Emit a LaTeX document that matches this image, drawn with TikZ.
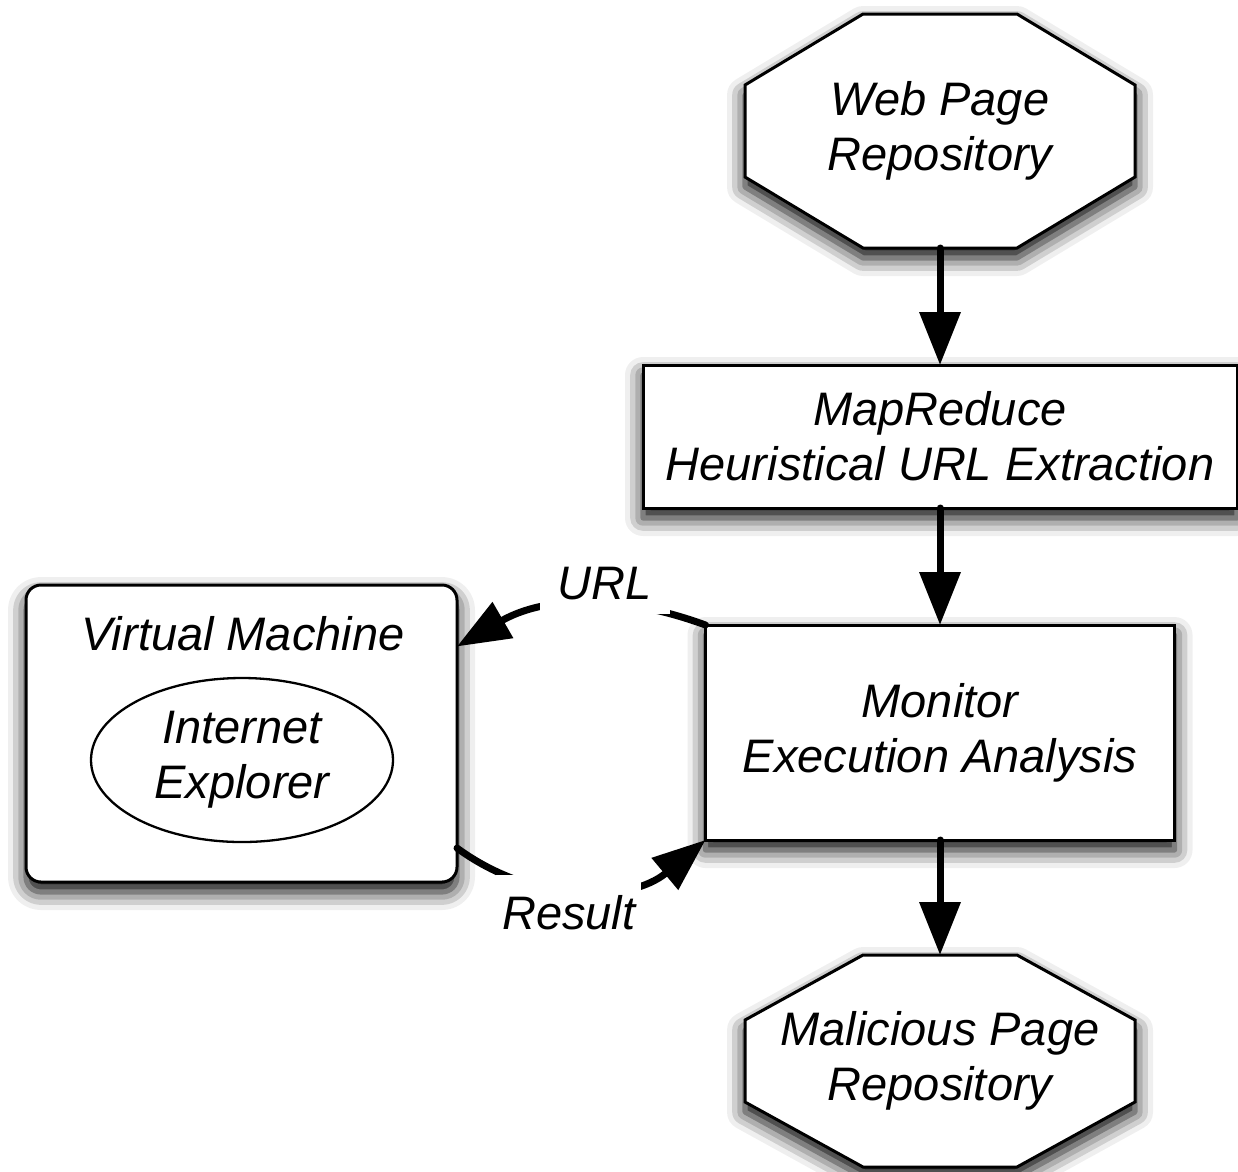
\documentclass[tikz,border=0pt]{standalone}
\usepackage{fontspec}
\setmainfont{Liberation Sans}
\usetikzlibrary{positioning, arrows.meta, shapes.geometric, calc, shadows.blur}

% octagon outline: centre, half height, chamfer height
\newcommand{\octframe}[3]{%
  \begin{scope}
  \draw[repoframe, shift={(#1)}] (-77,#2) -- (77,#2) -- (195,#2-#3) -- (195,#3-#2)
    -- (77,-#2) -- (-77,-#2) -- (-195,#3-#2) -- (-195,#2-#3) -- cycle;
  \end{scope}}

\begin{document}
\begin{tikzpicture}[
  x=1pt, y=1pt,
  every node/.style={font=\itshape\fontsize{47}{55}\selectfont, align=center, outer sep=0pt},
  softshadow/.style={blur shadow={shadow xshift=0pt, shadow yshift=-10pt,
                     shadow blur radius=18pt, shadow opacity=100}},
  repo/.style={minimum width=390pt, inner sep=0pt},
  repoframe/.style={draw, line width=3pt, fill=white, line join=miter, softshadow},
  procbox/.style={rectangle, draw, line width=3pt, fill=white, inner sep=0pt, softshadow},
  vmbox/.style={rectangle, rounded corners=15pt, draw, line width=3pt, fill=white,
                minimum width=431pt, minimum height=297pt, softshadow},
  app/.style={ellipse, draw, line width=2.3pt, fill=white,
              minimum width=302pt, minimum height=164pt, inner sep=0pt},
  flow/.style={-{Triangle[length=53pt, width=40pt, fill=black]}, line width=7pt,
               line cap=round, draw=black, fill opacity=1, draw opacity=1},
  lbl/.style={fill=white, inner xsep=18pt, inner ysep=14pt}
]
\useasboundingbox (0,0) rectangle (1238,-1171);

% === Pipeline (right column) =================================================
\coordinate (wprc) at (940,-131);
\octframe{wprc}{117}{71}
\node[repo, minimum height=234pt]                             (wpr) at (wprc) {Web Page\\Repository};
\node[procbox, minimum width=594pt, minimum height=143pt,
      below=117pt of wpr]                                     (mr)  {MapReduce\\Heuristical URL Extraction};
\node[procbox, minimum width=469pt, minimum height=215pt,
      below=117pt of mr]                                      (mon) {Monitor\\Execution Analysis};
\coordinate (mprc) at ($(mon.south)+(0,-221)$);
\octframe{mprc}{106}{65}
\node[repo, minimum height=212pt]                             (mpr) at (mprc) {Malicious Page\\Repository};

% === Virtual machine (left) ==================================================
\node[vmbox]                                      (vm)     at (241.5,-733.5) {};
\node[anchor=base]                                (vmname) at ($(vm.north)+(1.5,-65)$) {Virtual Machine};
\node[app]                                        (ie)     at (242,-760) {Internet\\Explorer};

% === Flow ====================================================================
\draw[flow] (wpr) -- (mr);
\draw[flow] (mr)  -- (mon);
\draw[flow] (mon) -- (mpr);

% URL out to the VM, result back
\draw[flow] (mon.north west) to[bend right=25]
      node[lbl, xshift=26pt, yshift=21pt] (url) {URL} (vm.22);
\draw[flow] (vm.-28) to[bend right=38]
      node[lbl, inner xsep=6pt, inner ysep=21pt, xshift=-14pt, yshift=-24pt] (res) {Result} (mon.south west);

\end{tikzpicture}
\end{document}
